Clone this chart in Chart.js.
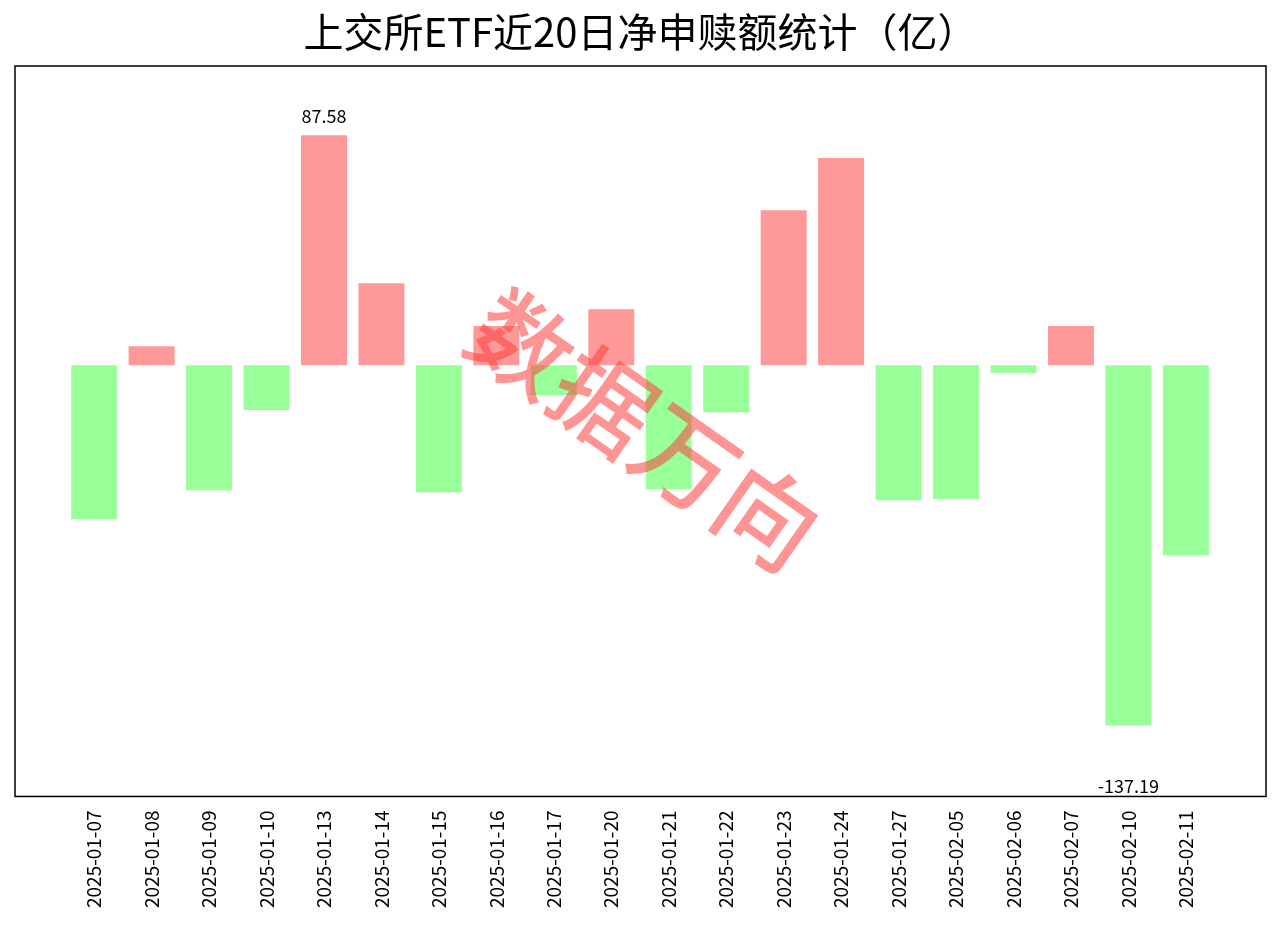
<!DOCTYPE html>
<html><head><meta charset="utf-8">
<script src="https://cdn.jsdelivr.net/npm/chart.js@4"></script>
<style>html,body{margin:0;background:#fff}#w{width:1280px;height:939px}</style>
</head><body><div id="w"><canvas id="c"></canvas></div>
<script>
const categories=["2025-01-07","2025-01-08","2025-01-09","2025-01-10","2025-01-13","2025-01-14","2025-01-15","2025-01-16","2025-01-17","2025-01-20","2025-01-21","2025-01-22","2025-01-23","2025-01-24","2025-01-27","2025-02-05","2025-02-06","2025-02-07","2025-02-10","2025-02-11"];
const values=[-58.7,7.2,-47.6,-17.1,87.58,31.2,-48.4,14.9,-11.4,21.3,-47.2,-17.9,59.0,78.9,-51.4,-51.0,-3.0,14.9,-137.19,-72.4];
const title="上交所ETF近20日净申赎额统计（亿）";
const font="'Noto Sans CJK SC', sans-serif";
const extras={id:'extras',afterDatasetsDraw(ch){
  const c=ch.ctx,meta=ch.getDatasetMeta(0);
  const mx=values.indexOf(Math.max(...values)),mn=values.indexOf(Math.min(...values));
  c.save();c.fillStyle='#000';c.font="18px "+font;c.textAlign='center';
  let p=meta.data[mx];c.textBaseline='bottom';c.fillText(values[mx].toFixed(2),p.x,p.y-10);
  p=meta.data[mn];c.textBaseline='top';c.fillText(values[mn].toFixed(2),p.x,p.y+52);
  c.translate(645,430);c.rotate(35*Math.PI/180);c.font="500 100px "+font;c.fillStyle='rgba(255,60,60,0.55)';
  c.textAlign='center';c.textBaseline='middle';c.fillText("数据万向",0,0);c.restore();
  const a=ch.chartArea;c.save();c.strokeStyle='#000';c.lineWidth=1.5;c.strokeRect(a.left,a.top,a.width,a.height);c.restore();
}};
new Chart(document.getElementById('c'),{type:'bar',
 data:{datasets:[{data:values.map((v,i)=>({x:i,y:v})),backgroundColor:values.map(v=>v>=0?'#ff9999':'#99ff99'),barPercentage:0.8,categoryPercentage:1}]},
 options:{responsive:true,maintainAspectRatio:false,animation:false,
  layout:{padding:{left:15,right:14,top:0,bottom:25}},
  plugins:{legend:{display:false},tooltip:{enabled:false},
   title:{display:true,text:title,font:{family:font,size:40,weight:'normal'},color:'#000',padding:{top:8,bottom:10}}},
  scales:{x:{type:'linear',min:-1.377,max:20.394,offset:false,
    afterBuildTicks(s){s.ticks=categories.map((_,i)=>({value:i}));},
    ticks:{callback:(v)=>categories[v]||'',maxRotation:90,minRotation:90,autoSkip:false,font:{family:font,size:19},color:'#000',padding:6},
    grid:{display:false,drawTicks:true,tickLength:8,tickColor:'#000'},border:{display:false}},
   y:{min:-164.2,max:113.9,display:false}}}
 ,plugins:[extras]});
</script></body></html>
